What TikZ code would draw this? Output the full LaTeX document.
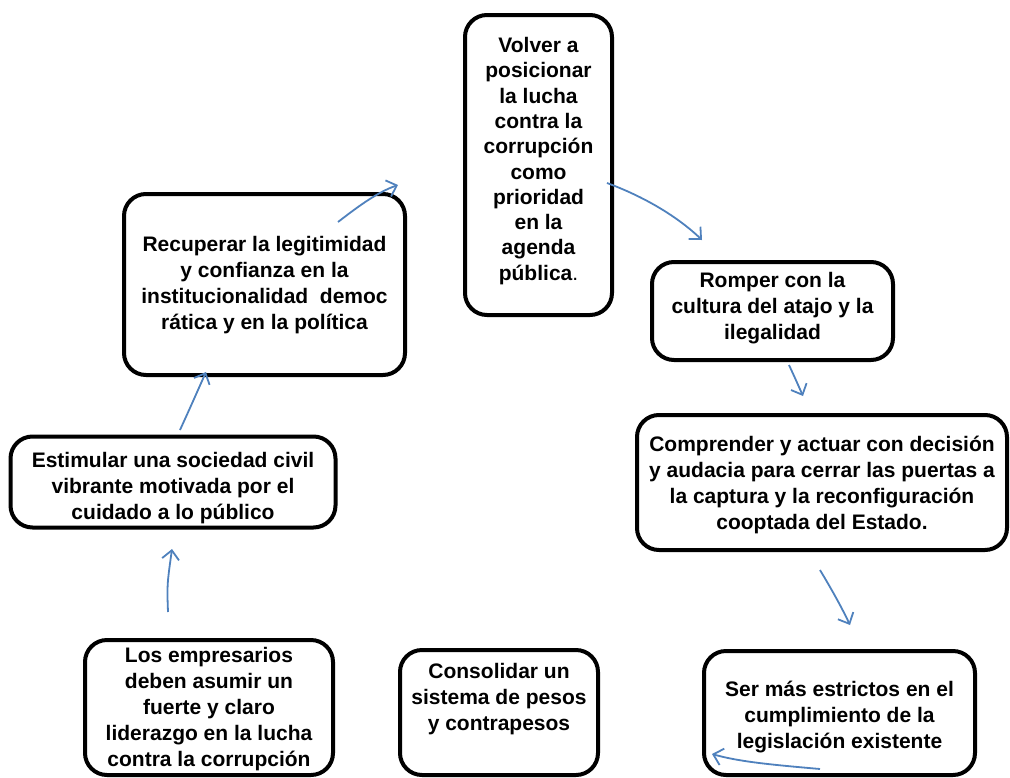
\documentclass[tikz,border=0pt]{standalone}
\usepackage{fontspec}
\setmainfont{Liberation Sans}
\usetikzlibrary{arrows.meta,calc}
\definecolor{arrowblue}{RGB}{79,129,189}
\tikzset{
  box/.style={draw=black, line width=4pt, rounded corners=22pt, fill=white, inner sep=0pt},
  txt/.style={align=center, inner sep=0pt, font=\fontsize{21}{26}\selectfont\bfseries},
  link/.style={draw=arrowblue, line width=1.8pt,
    -{Straight Barb[length=9pt,width=17pt,line width=1.8pt]}}
}
\begin{document}
\begin{tikzpicture}[x=1pt,y=-1pt]
\useasboundingbox (0,0) rectangle (1010,777);
\node[box, minimum width=147pt, minimum height=300pt] (A) at (538.5,165) {};
\node[txt, font=\fontsize{21}{25.3}\selectfont\bfseries] (At) at ($(A.center)+(0,-4)$)
  {Volver a\\posicionar\\la lucha\\contra la\\corrupción\\como\\prioridad\\en la\\agenda\\pública\textmd{.}};
\node[box, minimum width=281pt, minimum height=181pt] (B) at (264.5,284.5) {};
\node[txt] (Bt) at ($(B.center)+(0,1)$)
  {Recuperar la legitimidad\\y confianza en la\\institucionalidad\ \ democ\\rática y en la política};
\node[box, minimum width=241pt, minimum height=98pt] (C) at (772.5,311) {};
\node[txt] (Ct) at ($(C.center)+(0,-3)$)
  {Romper con la\\cultura del atajo y la\\ilegalidad};
\node[box, minimum width=370pt, minimum height=135pt] (D) at (822,482.5) {};
\node[txt] (Dt) at ($(D.center)+(0,2)$)
  {Comprender y actuar con decisión\\y audacia para cerrar las puertas a\\la captura y la reconfiguración\\cooptada del Estado.};
\node[box, minimum width=325pt, minimum height=91pt] (E) at (173,482) {};
\node[txt] (Et) at ($(E.center)+(0,6)$)
  {Estimular una sociedad civil\\vibrante motivada por el\\cuidado a lo público};
\node[box, minimum width=248pt, minimum height=135pt] (F) at (209,707.5) {};
\node[txt] (Ft) at ($(F.center)+(0,2)$)
  {Los empresarios\\deben asumir un\\fuerte y claro\\liderazgo en la lucha\\contra la corrupción};
\node[box, minimum width=198pt, minimum height=125pt] (G) at (499,712.5) {};
\node[txt] (Gt) at ($(G.center)+(0,-13)$)
  {Consolidar un\\sistema de pesos\\y contrapesos};
\node[box, minimum width=271pt, minimum height=124pt] (H) at (839.5,713) {};
\node[txt] (Ht) at ($(H.center)+(0,4)$)
  {Ser más estrictos en el\\cumplimiento de la\\legislación existente};

\coordinate (b1) at (338,222);
\coordinate (a0) at (398,185);
\coordinate (a1) at (607,183);
\coordinate (c0) at (702,240);
\coordinate (c1) at (789,365);
\coordinate (d0) at (803,396);
\coordinate (d1) at (820,570);
\coordinate (h0) at (850,625);
\coordinate (h1) at (820,769);
\coordinate (g0) at (712,754);
\coordinate (f1) at (168,612);
\coordinate (e0) at (172,549);
\coordinate (e1) at (180,430);
\coordinate (b0) at (206,372);

\draw[link] (b1) .. controls (360,205) and (378,192) .. (a0);
\draw[link] (a1) .. controls (645,197) and (678,217) .. (c0);
\draw[link] (c1) .. controls (795,378) .. (d0);
\draw[link] (d1) .. controls (832,590) and (842,608) .. (h0);
\draw[link] (h1) .. controls (775,765) and (740,762) .. (g0);
\draw[link] (f1) .. controls (167,585) .. (e0);
\draw[link] (e1) .. controls (190,408) .. (b0);
\end{tikzpicture}
\end{document}
